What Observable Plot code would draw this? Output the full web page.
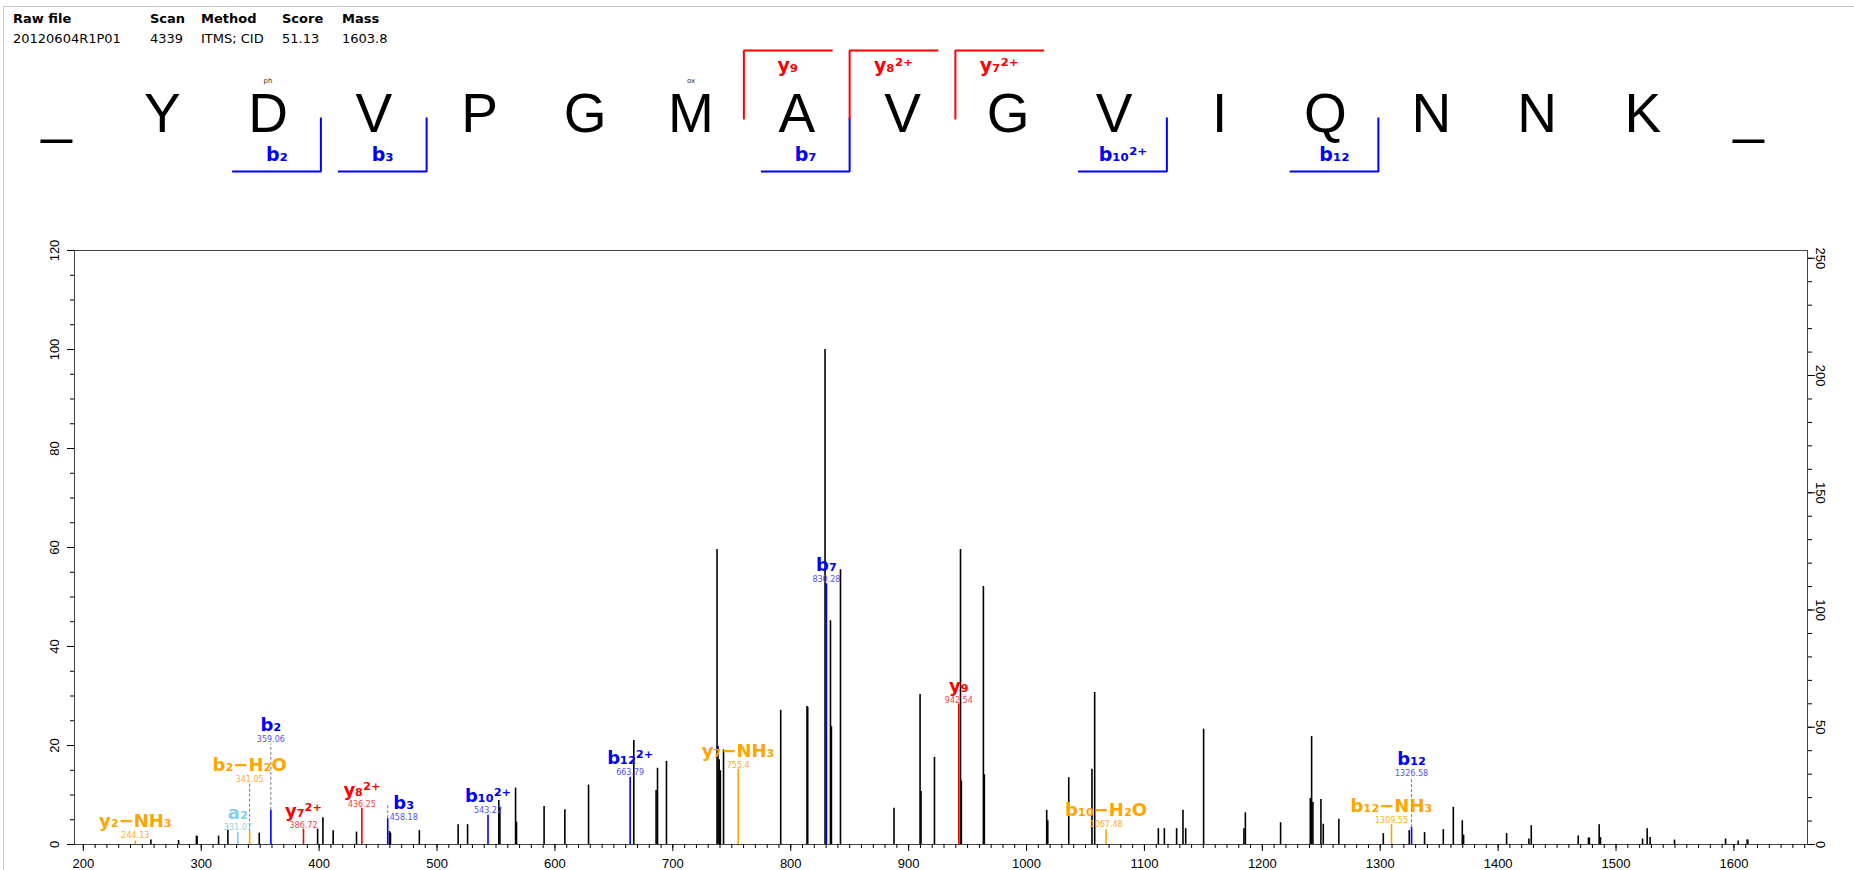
<!DOCTYPE html>
<html><head><meta charset="utf-8">
<script src="https://cdn.jsdelivr.net/npm/d3@7"></script>
<script src="https://cdn.jsdelivr.net/npm/@observablehq/plot@0.6"></script>
<style>
body{margin:0;background:#fff;width:1854px;height:870px;overflow:hidden;position:relative;font-family:"DejaVu Sans",sans-serif}
#border{position:absolute;left:3px;top:6px;right:0;bottom:0;border-left:1px solid #c8c8c8;border-top:1px solid #c8c8c8}
.h{position:absolute;font-size:13px;white-space:nowrap;line-height:15px;color:#000}
.hb{font-weight:bold}
#seq{position:absolute;left:0;top:0}
#spec{position:absolute;left:0;top:200px}
</style></head><body>
<div id="border"></div>
<div id="seq"></div>
<div id="spec"></div>
<div id="info"></div>
<script>
// ---------- data ----------
const infoLabels = ["Raw file", "Scan", "Method", "Score", "Mass"];
const infoValues = ["20120604R1P01", "4339", "ITMS; CID", "51.13", "1603.8"];

const residues = ["_", "Y", "D", "V", "P", "G", "M", "A", "V", "G", "V", "I", "Q", "N", "N", "K", "_"];
const modPositions = [2, 6];
const modNames = ["ph", "ox"];
const bIonNumbers = [2, 3, 7, 10, 12];
const bIonLabels = ["b₂", "b₃", "b₇", "b₁₀²⁺", "b₁₂"];
const yIonNumbers = [9, 8, 7];
const yIonLabels = ["y₉", "y₈²⁺", "y₇²⁺"];
const peptideLength = 15;

const peakMz = [257.3, 280.8, 295.9, 296.5, 314.7, 322.6, 349.2, 398.7, 403.2, 411.9, 431.7, 459.7, 460.5, 485.0, 517.9, 525.9, 552.4, 553.3, 566.6, 567.4, 590.8,
  608.4, 628.5, 666.9, 685.8, 687.0, 694.6, 737.5, 738.3, 739.3, 740.3, 743.0, 791.5, 813.8, 814.4, 829.1, 833.7, 834.5, 842.2, 887.6, 909.7, 910.5, 921.9,
  944.0, 944.7, 963.4, 964.2, 1017.1, 1018.0, 1035.8, 1055.5, 1057.8, 1111.8, 1116.9, 1127.3, 1132.7, 1135.0, 1150.2, 1184.4, 1185.6, 1215.5, 1240.7, 1241.8,
  1242.9, 1249.7, 1251.7, 1264.9, 1302.6, 1324.6, 1337.6, 1353.5, 1362.0, 1369.6, 1370.7, 1407.2, 1426.1, 1428.1, 1467.9, 1476.6, 1477.4, 1485.7, 1486.8,
  1522.5, 1526.4, 1528.9, 1549.6, 1592.9, 1603.6, 1611.2, 1611.8];
const peakIntensity = [0.9, 0.8, 1.7, 1.6, 1.7, 2.9, 2.3, 3.1, 5.4, 2.8, 2.5, 2.6, 2.3, 2.8, 4.0, 4.0, 8.9, 7.4, 11.4, 4.5, 7.7,
  7.0, 12.0, 21.0, 10.9, 15.4, 16.8, 59.6, 19.8, 17.1, 14.9, 19.1, 27.1, 27.9, 27.7, 100, 45.2, 23.8, 55.5, 7.3, 30.3, 10.7, 17.6,
  59.6, 12.8, 52.1, 14.1, 6.9, 4.8, 13.5, 15.2, 30.7, 3.2, 3.2, 3.2, 6.9, 3.2, 23.3, 3.2, 6.4, 4.4, 9.3, 21.8,
  8.5, 9.1, 4.1, 5.1, 2.2, 2.8, 2.4, 3.0, 7.5, 4.8, 1.9, 2.2, 1.1, 3.8, 1.7, 1.3, 1.3, 4.0, 1.4,
  1.1, 3.2, 1.4, 0.9, 1.1, 0.7, 0.9, 0.9];

const ionNames = ["y₂−NH₃", "a₂", "b₂−H₂O", "b₂", "y₇²⁺", "y₈²⁺", "b₃", "b₁₀²⁺", "b₁₂²⁺", "y₇−NH₃", "b₇", "y₉", "b₁₀−H₂O", "b₁₂−NH₃", "b₁₂"];
const ionMz = [244.13, 331.07, 341.05, 359.06, 386.72, 436.25, 458.18, 543.22, 663.79, 755.4, 830.28, 942.54, 1067.48, 1309.55, 1326.58];
const ionIntensity = [0.7, 2.5, 2.5, 6.9, 3.1, 7.3, 5.2, 5.9, 13.6, 15.2, 52.7, 28.4, 3.0, 4.0, 3.4];
const ionLabelLevel = [1.8, 3.4, 13.2, 21.3, 3.8, 8.1, 5.5, 6.9, 14.5, 16.0, 53.5, 29.2, 4.0, 4.9, 14.4];
const ionLinkTop = [null, null, 12.2, 20.3, null, null, 8.2, null, null, null, null, null, null, null, 13.4];

const leftTicks = [0, 20, 40, 60, 80, 100, 120];
const rightTicks = [0, 50, 100, 150, 200, 250];
const basePeakAbs = 211.1;   // absolute intensity of the 100 % peak (right axis)
const xTicks = [200, 300, 400, 500, 600, 700, 800, 900, 1000, 1100, 1200, 1300, 1400, 1500, 1600];

// ---------- header ----------
const infoX = [13, 150, 201, 282, 342];
const info = document.getElementById("info");
infoLabels.forEach((t, i) => {
  const a = document.createElement("div"); a.className = "h hb"; a.textContent = t;
  a.style.left = infoX[i] + "px"; a.style.top = "11px"; info.appendChild(a);
  const b = document.createElement("div"); b.className = "h"; b.textContent = infoValues[i];
  b.style.left = infoX[i] + "px"; b.style.top = "31px"; info.appendChild(b);
});

// ---------- colours ----------
const BLUE = "#0000ff", RED = "#ff0000", ORANGE = "#ffa500", SKY = "#87ceeb";
const LIGHT = {[BLUE]: "#5050ff", [RED]: "#ff4040", [ORANGE]: "#ffae2a", [SKY]: "#8fd0ea"};

// ---------- sequence ----------
const L = {yTop: 1, yLabel: 0.752, mod: 0.5, junction: -0.124, letter: -0.355, bLabel: -0.719, bBase: -1};
const W = 0.83;
const seqData = residues.map((r, i) => ({i, r}));
const modData = modPositions.map((p, i) => ({i: p, t: modNames[i]}));
const bData = bIonNumbers.map((n, i) => ({cut: n + 0.5, label: bIonLabels[i]}));
const yData = yIonNumbers.map((n, i) => ({cut: peptideLength - n + 0.5, label: yIonLabels[i]}));
const bPaths = bData.flatMap(d => [
  {x: d.cut - W, y: L.bBase, z: d.label}, {x: d.cut, y: L.bBase, z: d.label}, {x: d.cut, y: L.junction, z: d.label}]);
const yPaths = yData.flatMap(d => [
  {x: d.cut, y: L.junction, z: d.label}, {x: d.cut, y: L.yTop, z: d.label}, {x: d.cut + W, y: L.yTop, z: d.label}]);

const seqPlot = Plot.plot({
  width: 1854, height: 190,
  marginLeft: 56, marginRight: 106, marginTop: 50, marginBottom: 19,
  x: {domain: [0, residues.length - 1], axis: null},
  y: {domain: [-1, 1], axis: null},
  style: {background: "transparent", overflow: "visible"},
  marks: [
    Plot.line(bPaths, {x: "x", y: "y", z: "z", stroke: BLUE, strokeWidth: 2, strokeLinejoin: "miter", strokeLinecap: "square"}),
    Plot.line(yPaths, {x: "x", y: "y", z: "z", stroke: RED, strokeWidth: 2, strokeLinejoin: "miter", strokeLinecap: "square"}),
    Plot.text(seqData, {x: "i", y: L.letter, text: "r", lineAnchor: "bottom", fontSize: 55, fontFamily: "Liberation Sans, Arial, sans-serif", fill: "#000", ariaLabel: "letters"}),
    Plot.text(modData, {x: "i", y: L.mod, text: "t", fontSize: 7, fontFamily: "DejaVu Sans, sans-serif", fill: "#333"}),
    Plot.text(bData, {x: d => d.cut - W / 2, y: L.bLabel, text: "label", fontSize: 19, fontWeight: "bold", fontFamily: "DejaVu Sans, sans-serif", fill: BLUE}),
    Plot.text(yData, {x: d => d.cut + W / 2, y: L.yLabel, text: "label", fontSize: 19, fontWeight: "bold", fontFamily: "DejaVu Sans, sans-serif", fill: RED})
  ]
});
seqPlot.querySelectorAll('g[aria-label="letters"] text').forEach(t => {
  const tr = t.getAttribute("transform");
  if (tr) t.setAttribute("transform", tr + " scale(0.8,1)");
  else {
    const x = t.getAttribute("x") || 0, y = t.getAttribute("y") || 0;
    t.removeAttribute("x"); t.removeAttribute("y");
    t.setAttribute("transform", `translate(${x},${y}) scale(0.8,1)`);
  }
});
document.getElementById("seq").appendChild(seqPlot);

// ---------- spectrum ----------
const peaks = peakMz.map((mz, i) => ({mz, int: peakIntensity[i]}));
const ionColor = n => n.includes("−") ? ORANGE : n[0] === "b" ? BLUE : n[0] === "y" ? RED : SKY;
const ions = ionNames.map((name, i) => ({
  name, mz: ionMz[i], int: ionIntensity[i], at: ionLabelLevel[i], link: ionLinkTop[i],
  color: ionColor(name), light: LIGHT[ionColor(name)]
}));
const W0 = 1854, mL = 74, mR = 47;
const xDomain = [192.5, 1662.4];
const pxPerMz = (W0 - mL - mR) / (xDomain[1] - xDomain[0]);
const shifted = new Set(["b₃"]);
const labelX = d => d.mz + (shifted.has(d.name) ? 16 / pxPerMz : 0);

const toLeft = v => v / basePeakAbs * 100;
const spec = Plot.plot({
  width: W0, height: 670,
  marginTop: 50, marginBottom: 26, marginLeft: mL, marginRight: mR,
  x: {domain: xDomain},
  y: {domain: [0, 120]},
  color: {type: "identity"},
  style: {fontFamily: "Liberation Sans, Arial, sans-serif", fontSize: "13px", color: "#000", background: "transparent", overflow: "visible"},
  marks: [
    Plot.frame({stroke: "#444"}),
    Plot.axisX(d3.range(200, 1661, 10), {tickSize: 4, fill: "none", label: null}),
    Plot.axisX(xTicks, {tickSize: 7, tickPadding: 7, label: null, tickFormat: d => String(d)}),
    Plot.axisY(d3.range(0, 121, 5), {tickSize: 4, fill: "none", label: null}),
    Plot.axisY(leftTicks, {tickSize: 7, tickPadding: 9, tickRotate: -90, label: null, tickFormat: d => String(d)}),
    Plot.axisY(d3.range(0, 251, 10).map(toLeft), {anchor: "right", tickSize: 4, fill: "none", label: null}),
    Plot.axisY(rightTicks.map(toLeft), {anchor: "right", tickSize: 7, tickPadding: 11, tickRotate: 90, label: null, tickFormat: d => String(Math.round(d * basePeakAbs / 100))}),
    Plot.ruleX(peaks, {x: "mz", y1: 0, y2: "int", stroke: "#000", strokeWidth: 1.6}),
    Plot.ruleX(ions.filter(d => d.link != null), {x: "mz", y1: "int", y2: "link", stroke: "#777", strokeWidth: 1, strokeDasharray: "3,2"}),
    Plot.ruleX(ions, {x: "mz", y1: 0, y2: "int", stroke: "color", strokeWidth: 1.6}),
    Plot.text(ions, {x: labelX, y: "at", text: d => String(d.mz), fill: "light", fontSize: 8, fontFamily: "DejaVu Sans, sans-serif"}),
    Plot.text(ions, {x: labelX, y: "at", dy: -14, text: "name", fill: "color", fontSize: 18, fontWeight: "bold", fontFamily: "DejaVu Sans, sans-serif"})
  ]
});
document.getElementById("spec").appendChild(spec);
</script>
</body></html>
